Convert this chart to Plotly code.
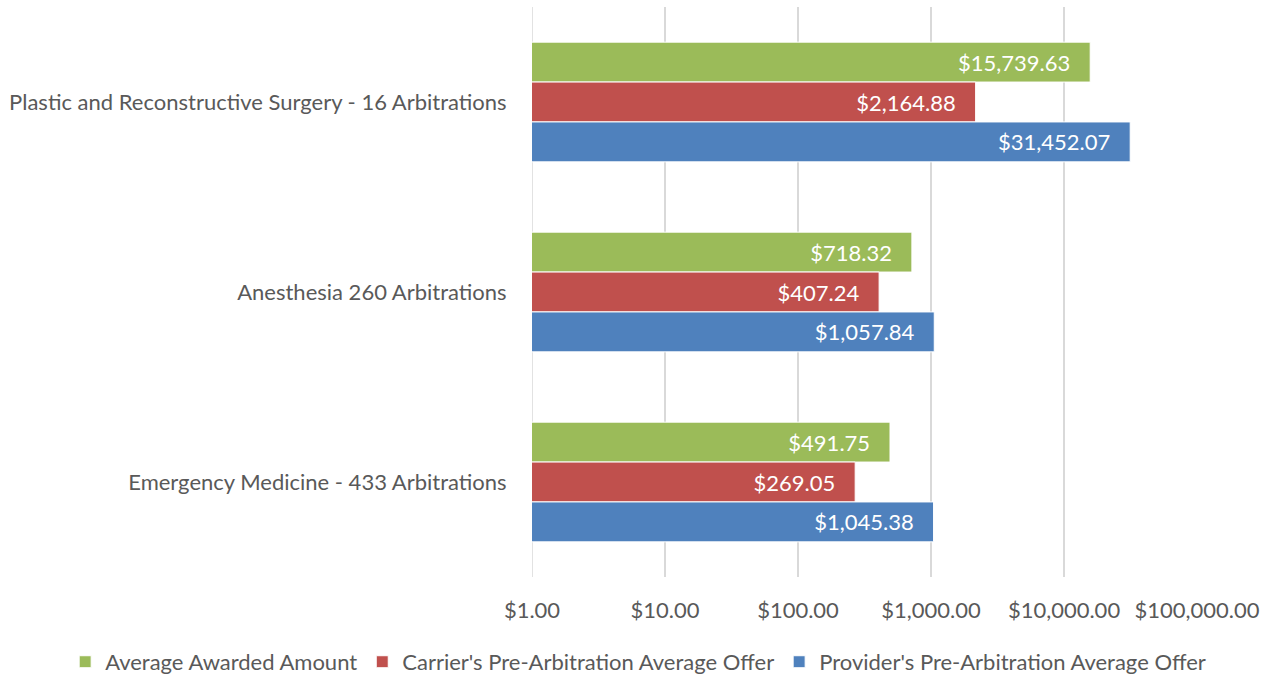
import plotly.graph_objects as go

categories = ["Plastic and Reconstructive Surgery - 16 Arbitrations",
              "Anesthesia 260 Arbitrations",
              "Emergency Medicine - 433 Arbitrations"]
awarded = [15739.63, 718.32, 491.75]
carrier = [2164.88, 407.24, 269.05]
provider = [31452.07, 1057.84, 1045.38]
tick_vals = [1, 10, 100, 1000, 10000, 100000]
tick_text = ["$1.00", "$10.00", "$100.00", "$1,000.00", "$10,000.00", "$100,000.00"]

series = [
    ("Average Awarded Amount", awarded, "#9BBB59"),
    ("Carrier's Pre-Arbitration Average Offer", carrier, "#C0504D"),
    ("Provider's Pre-Arbitration Average Offer", provider, "#4F81BD"),
]

FONT = "Lato, 'Open Sans', sans-serif"
FS = 22
PAD = "\u00a0\u00a0\u00a0"
fig = go.Figure()
for name, vals, col in series:
    fig.add_trace(go.Bar(
        y=categories, x=vals, name=name, orientation="h",
        marker=dict(color=col, line=dict(color="white", width=1)),
        texttemplate="$%{x:,.2f}" + PAD, textposition="inside", insidetextanchor="end",
        textfont=dict(color="white", size=FS, family=FONT),
        cliponaxis=False,
    ))

fig.update_layout(
    width=1270, height=677,
    margin=dict(l=532, r=73, t=7, b=100, autoexpand=False),
    barmode="group", bargap=0.37, bargroupgap=0,
    plot_bgcolor="white", paper_bgcolor="white",
    font=dict(family=FONT, color="#595959", size=FS),
    uniformtext=dict(minsize=FS, mode="show"),
    legend=dict(orientation="h", xref="paper", yref="paper",
                x=-0.702, xanchor="left", y=-0.149, yanchor="middle",
                font=dict(size=FS, color="#595959"), traceorder="normal",
                itemwidth=30),
    showlegend=True,
)
fig.update_xaxes(type="log", range=[0, 5], tickvals=tick_vals, ticktext=tick_text,
                 showgrid=True, gridcolor="#D9D9D9", gridwidth=1.5,
                 zeroline=False, showline=False, ticks="outside", ticklen=14,
                 tickcolor="rgba(0,0,0,0)", tickfont=dict(size=FS, color="#595959"))
fig.update_yaxes(type="category", autorange="reversed", showgrid=False,
                 ticks="outside", ticklen=20, tickcolor="rgba(0,0,0,0)",
                 tickfont=dict(size=FS, color="#595959"), showline=False)
# gridline at $1.00 (left edge of the plot)
fig.add_shape(type="line", xref="x", yref="paper", x0=1, x1=1, y0=0, y1=1,
              line=dict(color="#D9D9D9", width=1.5), layer="below")

fig.write_html("out.html", config={"displayModeBar": False},
               post_script="document.body.style.margin='0';")
